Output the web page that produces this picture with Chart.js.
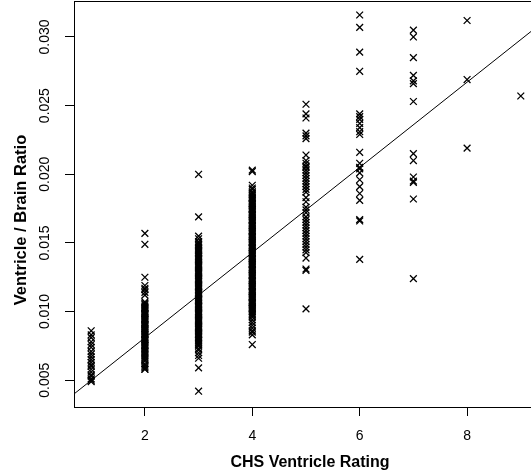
<!DOCTYPE html>
<html><head><meta charset="utf-8">
<script src="https://cdn.jsdelivr.net/npm/chart.js@4.4.1/dist/chart.umd.min.js"></script>
<style>html,body{margin:0;padding:0;background:#fff;}#wrap{width:531px;height:471px;position:relative;}</style>
</head><body><div id="wrap"><canvas id="c" width="531" height="471"></canvas></div>
<script>
// ---- data ----
const ratings = [1, 2, 3, 4, 5, 6, 7, 8, 9];
const rating1 = [0.0086,0.0083,0.0081,0.0078,0.0076,0.0074,0.0071,0.0069,0.0067,0.0065,0.0063,0.0061,0.0060,0.0058,0.0056,0.0054,0.0053,0.0051,0.0050,0.0049];
const rating2 = [0.0157,0.0149,0.0125,0.0119,0.0117,0.0116,0.0114,0.0112,
  0.0107,0.0106,0.0105,0.0104,0.0103,0.01025,0.0102,0.0101,0.0100,0.0099,0.00985,0.0098,0.0097,0.0096,0.0095,0.00945,0.0094,0.0093,0.0092,0.0091,0.00905,0.0090,
  0.0089,0.0088,0.00875,0.0087,0.0086,0.0085,0.0084,0.00835,0.0083,0.0082,0.0081,0.0080,0.00795,0.0079,0.0078,0.0077,0.0076,0.00755,0.0075,0.0074,
  0.0073,0.0072,0.0071,0.0070,0.0069,0.0068,0.0067,0.0066,0.0065,0.0064,0.0062,0.0061,0.0060,0.0059,0.0058,0.0058];
const rating3 = [0.0200,0.0169,0.0155,0.0153,0.0151,0.0150,0.0149,0.0148,0.0147,0.0146,0.0145,0.01445,0.0144,0.0143,0.0142,0.0141,0.0140,0.0139,0.01385,0.0138,
  0.0137,0.0136,0.0135,0.0134,0.01335,0.0133,0.0132,0.0131,0.0130,0.0129,0.01285,0.0128,0.0127,0.0126,0.0125,0.0124,0.01235,0.0123,0.0122,0.0121,
  0.0120,0.0119,0.01185,0.0118,0.0117,0.0116,0.0115,0.0114,0.01135,0.0113,0.0112,0.0111,0.0110,0.0109,0.01085,0.0108,0.0107,0.0106,0.0105,0.0104,
  0.01035,0.0103,0.0102,0.0101,0.0100,0.0099,0.00985,0.0098,0.0097,0.0096,0.0095,0.0094,0.00935,0.0093,0.0092,0.0091,0.0090,0.0089,0.00885,0.0088,
  0.0087,0.0086,0.0085,0.0084,0.00835,0.0083,0.0082,0.0081,0.0080,0.0079,0.0078,0.0077,0.0076,0.0075,0.0073,0.0072,0.0070,0.0068,0.0066,0.0059,0.0042];
const rating4 = [0.0203,0.0202,0.0192,0.0190,0.0189,0.0187,0.0186,0.0185,0.0184,0.0183,0.01825,0.0182,0.0181,0.0180,0.0179,0.01785,0.0178,0.0177,0.0176,0.0175,
  0.01745,0.0174,0.0173,0.0172,0.0171,0.01705,0.0170,0.0169,0.0168,0.0167,0.01665,0.0166,0.0165,0.0164,0.0163,0.01625,0.0162,0.0161,0.0160,0.0159,
  0.01585,0.0158,0.0157,0.0156,0.0155,0.01545,0.0154,0.0153,0.0152,0.0151,0.01505,0.0150,0.0149,0.0148,0.0147,0.01465,0.0146,0.0145,0.0144,0.0143,
  0.01425,0.0142,0.0141,0.0140,0.0139,0.01385,0.0138,0.0137,0.0136,0.0135,0.01345,0.0134,0.0133,0.0132,0.0131,0.01305,0.0130,0.0129,0.0128,0.0127,
  0.01265,0.0126,0.0125,0.0124,0.0123,0.01225,0.0122,0.0121,0.0120,0.0119,0.01185,0.0118,0.0117,0.0116,0.0115,0.01145,0.0114,0.0113,0.0112,0.0111,
  0.01105,0.0110,0.0109,0.0108,0.0107,0.01065,0.0106,0.0105,0.0104,0.0103,0.01025,0.0102,0.0101,0.0100,0.0099,0.0098,0.0097,0.0096,0.0094,0.0092,
  0.0090,0.0088,0.0086,0.0085,0.0083,0.0076];
const rating5 = [0.0251,0.0244,0.0241,0.0230,0.0228,0.0226,0.0214,0.0210,0.0208,0.0206,0.0205,0.0203,0.0201,0.0199,0.0197,0.0195,0.0193,0.0191,0.0189,0.0187,
  0.0183,0.0180,0.0176,0.0174,0.0172,0.0169,0.0167,0.0165,0.0163,0.0161,0.0159,0.0157,0.0155,0.0153,0.0151,0.0149,0.0147,0.0145,0.0143,0.0139,
  0.0131,0.0130,0.0102];
const rating6 = [0.0316,0.0307,0.0289,0.0275,0.0244,0.0242,0.0240,0.0237,0.0234,0.0231,0.0229,0.0216,0.0208,0.0205,0.0204,0.0201,0.0196,0.0191,0.0186,0.0181,
  0.0167,0.0166,0.0138];
const rating7 = [0.0305,0.0300,0.0285,0.0272,0.0268,0.0266,0.0253,0.0215,0.0210,0.0198,0.0195,0.0194,0.0182,0.0124];
const rating8 = [0.0312,0.0269,0.0219];
const rating9 = [0.0257];
const ratioByRating = [rating1, rating2, rating3, rating4, rating5, rating6, rating7, rating8, rating9];

const fitX = [0.68, 9.19];
const fitY = [0.0040, 0.0304];

const xTicks = [2, 4, 6, 8];
const yTicks = [0.005, 0.010, 0.015, 0.020, 0.025, 0.030];
const xTitle = 'CHS Ventricle Rating';
const yTitle = 'Ventricle / Brain Ratio';

// ---- build ----
const points = [];
ratings.forEach((r, i) => ratioByRating[i].forEach(v => points.push({x: r, y: v})));
const fitLine = fitX.map((x, i) => ({x: x, y: fitY[i]}));

const FONT = "'Liberation Sans', Arial, Helvetica, sans-serif";

const decor = {
  id: 'decor',
  afterDraw(chart) {
    const ctx = chart.ctx, a = chart.chartArea;
    ctx.save();
    ctx.strokeStyle = '#000';
    ctx.lineWidth = 1;
    ctx.beginPath();
    ctx.moveTo(a.left, a.top + 0.5);
    ctx.lineTo(a.right, a.top + 0.5);
    ctx.stroke();
    ctx.fillStyle = '#000';
    ctx.font = "bold 16px " + FONT;
    ctx.textAlign = 'center';
    ctx.textBaseline = 'alphabetic';
    ctx.fillText(xTitle, 310, 466.5);
    ctx.translate(25.5, 220);
    ctx.rotate(-Math.PI / 2);
    ctx.font = "bold 16.5px " + FONT;
    ctx.fillText(yTitle, 0, 0);
    ctx.restore();
  }
};

function zeroPad(s) { s.paddingTop = 0; s.paddingBottom = 0; s.paddingLeft = 0; s.paddingRight = 0; }

new Chart(document.getElementById('c'), {
  type: 'scatter',
  data: {
    datasets: [
      {
        type: 'scatter',
        data: points,
        pointStyle: 'crossRot',
        pointRadius: 4.8,
        pointHoverRadius: 4.8,
        borderColor: '#000',
        backgroundColor: 'rgba(0,0,0,0)',
        pointBorderWidth: 1.3,
        borderWidth: 1.3
      },
      {
        type: 'line',
        data: fitLine,
        borderColor: '#000',
        borderWidth: 1,
        pointRadius: 0,
        fill: false,
        tension: 0
      }
    ]
  },
  options: {
    responsive: false,
    animation: false,
    devicePixelRatio: 1,
    layout: {autoPadding: false, padding: {left: 0, right: 0, top: 1, bottom: 0}},
    plugins: {legend: {display: false}, tooltip: {enabled: false}},
    scales: {
      x: {
        type: 'linear',
        min: 0.68,
        max: 9.19,
        afterBuildTicks: s => { s.ticks = xTicks.map(v => ({value: v})); },
        afterFit: s => { s.height = 64; zeroPad(s); },
        grid: {display: true, drawOnChartArea: false, drawTicks: true, tickLength: 9, color: '#000', tickWidth: 1},
        border: {display: true, color: '#000', width: 1},
        ticks: {font: {family: FONT, size: 14}, color: '#000', padding: 12, maxRotation: 0, autoSkip: false,
          callback: v => String(v)}
      },
      y: {
        type: 'linear',
        min: 0.00305,
        max: 0.03262,
        afterBuildTicks: s => { s.ticks = yTicks.map(v => ({value: v})); },
        afterFit: s => { s.width = 74; zeroPad(s); },
        grid: {display: true, drawOnChartArea: false, drawTicks: true, tickLength: 9, color: '#000', tickWidth: 1},
        border: {display: true, color: '#000', width: 1},
        ticks: {font: {family: FONT, size: 14}, color: '#000', padding: 2, minRotation: 90, maxRotation: 90,
          crossAlign: 'center', autoSkip: false, callback: v => v.toFixed(3)}
      }
    }
  },
  plugins: [decor]
});
</script>
</body></html>
